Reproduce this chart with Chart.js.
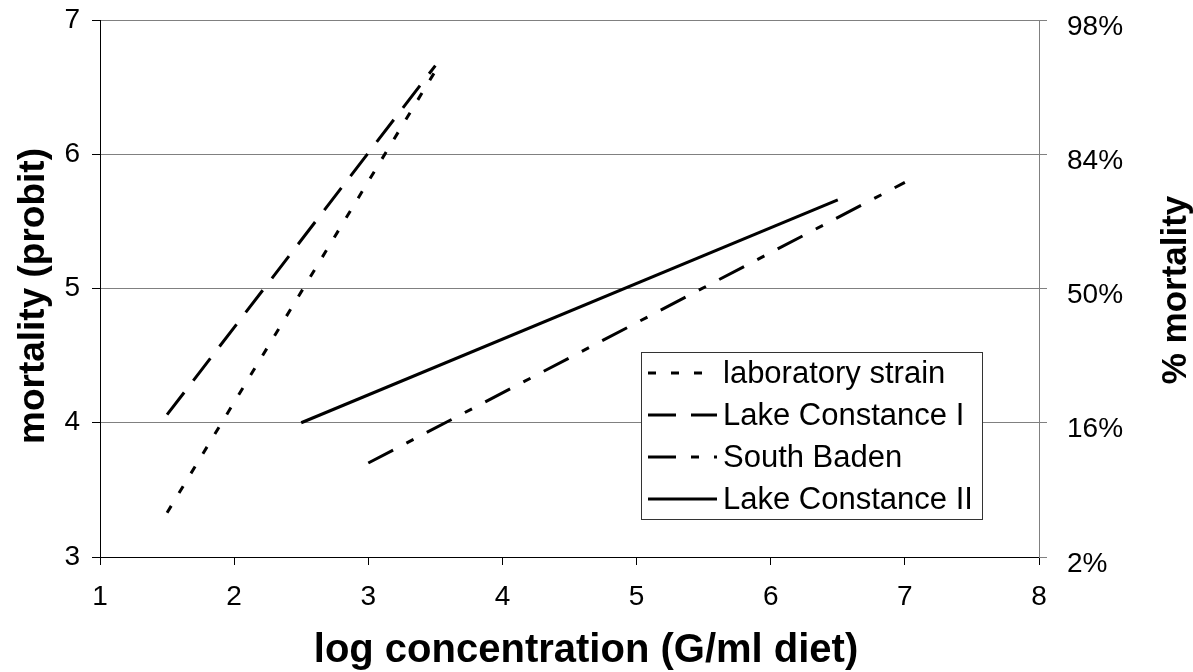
<!DOCTYPE html>
<html><head><meta charset="utf-8">
<script src="https://cdn.jsdelivr.net/npm/chart.js@4"></script>
<style>html,body{margin:0;padding:0;background:#fff;} #wrap{width:1193px;height:672px;}</style>
</head><body><div id="wrap"><canvas id="c" width="1193" height="672"></canvas></div>
<script>
const seriesNames = ['laboratory strain', 'Lake Constance I', 'South Baden', 'Lake Constance II'];
const labConc = [1.5, 3.5];
const labProbit = [3.33, 6.62];
const lc1Conc = [1.5, 3.5];
const lc1Probit = [4.06, 6.66];
const sbConc = [3.0, 7.0];
const sbProbit = [3.70, 5.79];
const lc2Conc = [2.5, 6.5];
const lc2Probit = [4.00, 5.66];
const xTickValues = [1, 2, 3, 4, 5, 6, 7, 8];
const yTickValues = [3, 4, 5, 6, 7];
const percentLabels = ['2%', '16%', '50%', '84%', '98%'];
const xTitle = 'log concentration (G/ml diet)';
const yTitle = 'mortality (probit)';
const y2Title = '% mortality';

const FONT = '"Liberation Sans", Arial, Helvetica, sans-serif';
const dashes = [[8, 15], [28, 15], [28, 15, 8, 15], []];

function pts(xs, ys) { return xs.map((x, i) => ({x: x, y: ys[i]})); }
const seriesData = [pts(labConc, labProbit), pts(lc1Conc, lc1Probit), pts(sbConc, sbProbit), pts(lc2Conc, lc2Probit)];

const datasets = seriesNames.map((name, i) => ({
  label: name,
  data: seriesData[i],
  borderColor: '#000',
  borderWidth: 3,
  borderDash: dashes[i],
  borderCapStyle: 'butt',
  pointRadius: 0,
  fill: false,
  tension: 0
}));

const overlay = {
  id: 'overlay',
  afterDraw(chart) {
    const ctx = chart.ctx;
    ctx.save();
    ctx.fillStyle = '#000';
    ctx.textAlign = 'center';
    ctx.textBaseline = 'alphabetic';
    ctx.font = 'bold 40px ' + FONT;
    ctx.fillText(xTitle, 586, 662);
    ctx.font = 'bold 37px ' + FONT;
    ctx.save(); ctx.translate(44, 296); ctx.rotate(-Math.PI / 2); ctx.fillText(yTitle, 0, 0); ctx.restore();
    ctx.font = 'bold 35px ' + FONT;
    ctx.save(); ctx.translate(1186, 290); ctx.rotate(-Math.PI / 2); ctx.fillText(y2Title, 0, 0); ctx.restore();

    // legend
    const bx = 641.5, by = 352.5, bw = 341, bh = 167;
    ctx.fillStyle = '#fff';
    ctx.fillRect(bx, by, bw, bh);
    ctx.strokeStyle = '#333';
    ctx.lineWidth = 1;
    ctx.setLineDash([]);
    ctx.strokeRect(bx, by, bw, bh);
    const rows = [373, 415, 457, 499];
    chart.data.datasets.forEach((ds, i) => {
      ctx.beginPath();
      ctx.setLineDash(ds.borderDash);
      ctx.lineWidth = ds.borderWidth;
      ctx.lineCap = 'butt';
      ctx.strokeStyle = ds.borderColor;
      ctx.moveTo(648, rows[i]);
      ctx.lineTo(717, rows[i]);
      ctx.stroke();
      ctx.setLineDash([]);
      ctx.fillStyle = '#000';
      ctx.font = '31px ' + FONT;
      ctx.textAlign = 'left';
      ctx.textBaseline = 'middle';
      ctx.fillText(ds.label, 723, rows[i] + 1);
    });
    ctx.restore();
  }
};

Chart.defaults.font.family = FONT;
Chart.defaults.color = '#000';

function fitV(w) {
  return (s) => { s.width = w; s.paddingTop = 0; s.paddingBottom = 0; };
}

new Chart(document.getElementById('c').getContext('2d'), {
  type: 'line',
  data: {datasets: datasets},
  options: {
    responsive: false,
    animation: false,
    layout: {padding: {top: 20, left: 0, right: 0, bottom: 0}},
    plugins: {legend: {display: false}, tooltip: {enabled: false}},
    scales: {
      x: {
        type: 'linear', min: 1, max: 8,
        afterBuildTicks: (s) => { s.ticks = xTickValues.map(v => ({value: v})); },
        ticks: {font: {size: 28}, padding: 15, color: '#000'},
        grid: {drawOnChartArea: false, drawTicks: true, tickLength: 8, color: '#000'},
        border: {display: true, color: '#000', width: 1},
        afterFit: (s) => { s.height = 115; s.paddingLeft = 0; s.paddingRight = 0; }
      },
      y: {
        position: 'left', min: 3, max: 7,
        afterBuildTicks: (s) => { s.ticks = yTickValues.map(v => ({value: v})); },
        ticks: {font: {size: 28}, padding: 12, color: '#000'},
        grid: {color: '#808080', tickLength: 8, tickColor: '#000'},
        border: {display: true, color: '#000', width: 1},
        afterFit: fitV(100)
      },
      y2: {
        position: 'right', min: 3, max: 7,
        afterBuildTicks: (s) => { s.ticks = yTickValues.map(v => ({value: v})); },
        ticks: {font: {size: 28}, padding: 20, labelOffset: 7, color: '#000',
          callback: (v) => percentLabels[yTickValues.indexOf(v)]},
        grid: {drawOnChartArea: false, tickLength: 8, color: '#808080'},
        border: {display: true, color: '#808080', width: 1},
        afterFit: fitV(154)
      }
    }
  },
  plugins: [overlay]
});
</script>
</body></html>
